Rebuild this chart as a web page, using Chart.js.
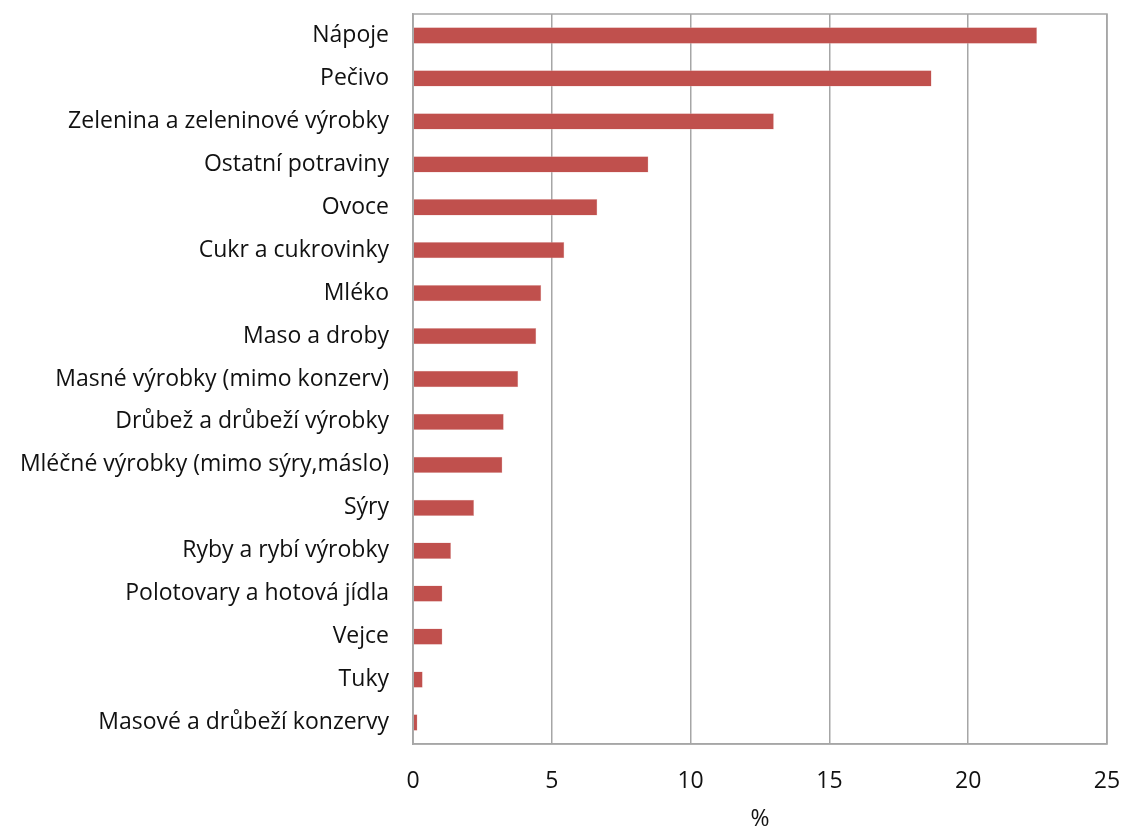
<!DOCTYPE html>
<html>
<head>
<meta charset="utf-8">
<script src="https://cdn.jsdelivr.net/npm/chart.js@4"></script>
<style>
  html, body { margin: 0; padding: 0; background: #ffffff; }
  #wrap { width: 1124px; height: 827px; position: relative; }
</style>
</head>
<body>
<div id="wrap"><canvas id="foodChart"></canvas></div>
<script>
  const categories = [
    'Nápoje',
    'Pečivo',
    'Zelenina a zeleninové výrobky',
    'Ostatní potraviny',
    'Ovoce',
    'Cukr a cukrovinky',
    'Mléko',
    'Maso a droby',
    'Masné výrobky (mimo konzerv)',
    'Drůbež a drůbeží výrobky',
    'Mléčné výrobky (mimo sýry,máslo)',
    'Sýry',
    'Ryby a rybí výrobky',
    'Polotovary a hotová jídla',
    'Vejce',
    'Tuky',
    'Masové a drůbeží konzervy'
  ];
  const shares = [22.48, 18.68, 13.0, 8.48, 6.64, 5.45, 4.62, 4.44, 3.79, 3.27, 3.22, 2.2, 1.37, 1.06, 1.06, 0.35, 0.16];
  const xTicks = [0, 5, 10, 15, 20, 25];

  const labelFont = { family: '"Open Sans", sans-serif', size: 23 };

  // frame around the plot area (top and right edges too)
  const frame = {
    id: 'frame',
    afterDatasetsDraw(chart) {
      const a = chart.chartArea;
      const c = chart.ctx;
      c.save();
      c.strokeStyle = '#a6a6a6';
      c.lineWidth = 1.5;
      c.strokeRect(a.left, a.top, a.right - a.left, a.bottom - a.top);
      c.restore();
    }
  };

  new Chart(document.getElementById('foodChart'), {
    type: 'bar',
    data: {
      labels: categories,
      datasets: [{
        data: shares,
        backgroundColor: '#c0504d',
        borderColor: '#e6b8b7',
        borderWidth: 0.5,
        barPercentage: 0.76,
        categoryPercentage: 0.5
      }]
    },
    options: {
      indexAxis: 'y',
      responsive: true,
      maintainAspectRatio: false,
      animation: false,
      layout: { padding: { top: 14, right: 17, left: 0, bottom: 0 } },
      plugins: {
        legend: { display: false },
        tooltip: { enabled: false }
      },
      scales: {
        x: {
          min: 0,
          max: 25,
          afterBuildTicks: s => { s.ticks = xTicks.map(v => ({ value: v })); },
          afterFit: s => { s.height = 83; s.paddingLeft = 0; s.paddingRight = 0; },
          grid: { color: '#a6a6a6', lineWidth: 1.5, drawTicks: false },
          border: { color: '#a6a6a6', width: 1.5 },
          ticks: { color: '#111', font: labelFont, padding: 24, maxRotation: 0 },
          title: { display: true, text: '%', color: '#111', font: labelFont, padding: { top: 8, bottom: -6 } }
        },
        y: {
          afterFit: s => { s.width = 413; s.paddingTop = 0; s.paddingBottom = 0; },
          grid: { display: false, drawTicks: false },
          border: { color: '#a6a6a6', width: 1.5 },
          ticks: { color: '#111', font: labelFont, padding: 24, autoSkip: false }
        }
      }
    },
    plugins: [frame]
  });
</script>
</body>
</html>
